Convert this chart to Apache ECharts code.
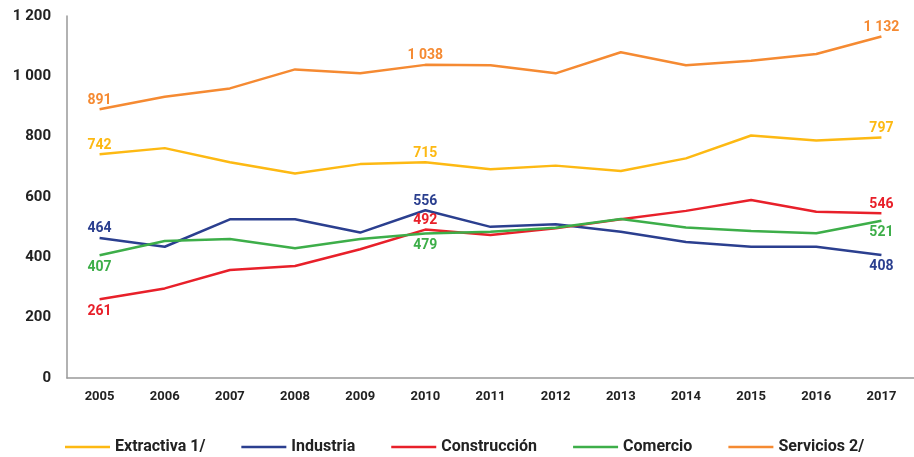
<!DOCTYPE html>
<html>
<head>
<meta charset="utf-8">
<script src="https://cdn.jsdelivr.net/npm/echarts@6/dist/echarts.min.js"></script>
<style>
html,body{margin:0;padding:0;background:#fff;}
#chart{width:914px;height:457px;}
</style>
</head>
<body>
<div id="chart"></div>
<script>
// Years on the horizontal axis
var years = ['2005','2006','2007','2008','2009','2010','2011','2012','2013','2014','2015','2016','2017'];

// Series values by sector
var extractiva   = [742, 762, 715, 678, 709, 715, 692, 704, 686, 728, 804, 787, 797];
var industria    = [464, 435, 526, 526, 482, 556, 501, 510, 485, 451, 435, 435, 408];
var construccion = [261, 297, 358, 371, 427, 492, 474, 496, 526, 554, 590, 551, 546];
var comercio     = [407, 454, 461, 430, 461, 479, 485, 498, 527, 499, 487, 480, 521];
var servicios    = [891, 932, 960, 1023, 1010, 1038, 1037, 1010, 1080, 1037, 1052, 1074, 1132];

var names = ['Extractiva 1/', 'Industria', 'Construcción', 'Comercio', 'Servicios 2/'];
var colors = ['#FDB913', '#2B3F8F', '#E8202A', '#3DAE49', '#F58A32'];

// Labelled years (indices) and label placement per series
var labelIdx = [0, 5, 12];
var labelPos = [
  ['top', 'top', 'top'],
  ['top', 'top', 'bottom'],
  ['bottom', 'top', 'top'],
  ['bottom', 'bottom', 'bottom'],
  ['top', 'top', 'top']
];

function fmt(v) {
  return String(v).replace(/\B(?=(\d{3})+(?!\d))/g, ' ');
}

var allData = [extractiva, industria, construccion, comercio, servicios];

var series = allData.map(function (vals, s) {
  return {
    name: names[s],
    type: 'line',
    symbol: 'circle',
    symbolSize: 0.1,
    showSymbol: true,
    showAllSymbol: true,
    smooth: false,
    lineStyle: { width: 2.5, color: colors[s] },
    itemStyle: { color: colors[s] },
    data: vals.map(function (v, i) {
      var k = labelIdx.indexOf(i);
      if (k < 0) return v;
      var pos = labelPos[s][k];
      return {
        value: v,
        label: {
          show: true,
          position: pos,
          distance: pos === 'top' ? 2 : 5,
          formatter: function (p) { return fmt(p.value); },
          color: colors[s],
          fontFamily: 'Roboto',
          fontWeight: 'bold',
          fontSize: 14
        }
      };
    })
  };
});

var chart = echarts.init(document.getElementById('chart'));
chart.setOption({
  animation: false,
  backgroundColor: '#fff',
  grid: { left: 67, top: 16, bottom: 79, width: 857, containLabel: false },
  legend: {
    left: 60,
    top: 434,
    itemWidth: 45,
    itemHeight: 2.5,
    itemGap: 36,
    icon: 'rect',
    textStyle: { fontFamily: 'Roboto', fontWeight: 'bold', fontSize: 16, color: '#222' },
    data: names
  },
  xAxis: {
    type: 'category',
    data: years,
    boundaryGap: true,
    axisLine: { lineStyle: { color: '#999', width: 1.5 } },
    axisTick: { show: false },
    axisLabel: { color: '#222', fontFamily: 'Roboto', fontWeight: 'bold', fontSize: 13, margin: 12 }
  },
  yAxis: {
    type: 'value',
    min: 0,
    max: 1200,
    interval: 200,
    axisLine: { show: true, lineStyle: { color: '#999', width: 1.5 } },
    axisTick: { show: false },
    splitLine: { show: false },
    axisLabel: {
      color: '#222', fontFamily: 'Roboto', fontWeight: 'bold', fontSize: 15, margin: 16,
      formatter: function (v) { return fmt(v); }
    }
  },
  series: series
});
</script>
</body>
</html>
